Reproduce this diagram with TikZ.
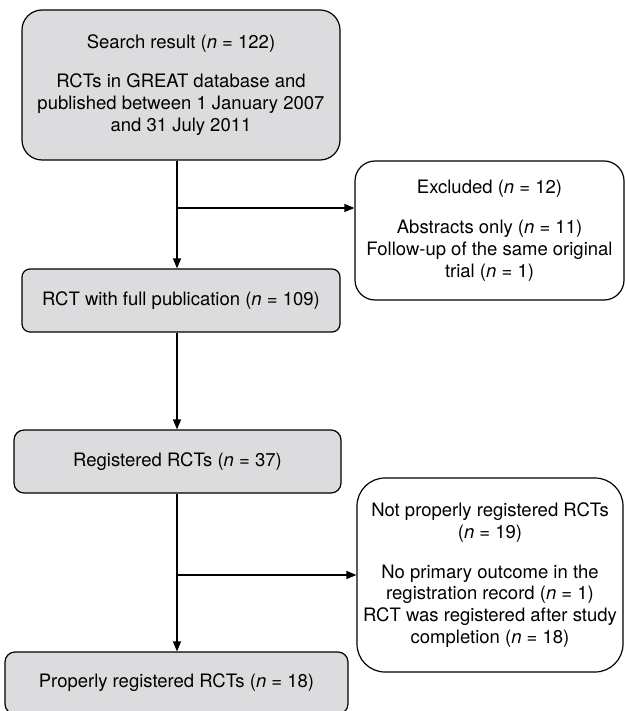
\documentclass[tikz,border=0pt]{standalone}
\usepackage{fontspec}
\setmainfont{TeX Gyre Heros}
\usetikzlibrary{arrows.meta}
\definecolor{boxgray}{RGB}{220,220,222}
\begin{document}
\begin{tikzpicture}[x=1pt,y=-1pt,
  box/.style={draw=black, line width=1.2pt, fill=boxgray, align=center, inner sep=0pt,
    font=\fontsize{18.5}{21.8}\selectfont},
  wbox/.style={box, fill=white},
  arr/.style={line width=1.2pt, -{Triangle[length=10pt,width=8pt]}}]
\useasboundingbox (0,0) rectangle (625,711);
\node[box, rounded corners=20pt, minimum width=318pt, minimum height=150pt] (b1) at (181,85)
  {Search result (\textit{n} = 122)\\[18pt]RCTs in GREAT database and\\published between 1 January 2007\\and 31 July 2011};
\node[box, rounded corners=8pt, minimum width=318pt, minimum height=63pt] (b2) at (181,300.5)
  {RCT with full publication (\textit{n} = 109)};
\node[wbox, rounded corners=20pt, minimum width=269pt, minimum height=139pt] (exc) at (489.5,230.5)
  {Excluded (\textit{n} = 12)\\[19pt]Abstracts only (\textit{n} = 11)\\Follow-up of the same original\\trial (\textit{n} = 1)};
\node[box, rounded corners=10pt, minimum width=327pt, minimum height=63pt] (reg) at (177.5,461.5)
  {Registered RCTs (\textit{n} = 37)};
\node[wbox, rounded corners=28pt, minimum width=266pt, minimum height=194pt] (np) at (490,575)
  {Not properly registered RCTs\\(\textit{n} = 19)\\[18pt]No primary outcome in the\\registration record (\textit{n} = 1)\\RCT was registered after study\\completion (\textit{n} = 18)};
\node[box, rounded corners=10pt, minimum width=343pt, minimum height=62pt] (pr) at (176.5,683)
  {Properly registered RCTs (\textit{n} = 18)};
\coordinate (s1) at (177,208);
\coordinate (s2) at (177,575);
\draw[arr] (b1.south -| s1) -- (b2.north -| s1);
\draw[arr] (s1) -- (s1 -| exc.west);
\draw[arr] (b2.south -| s1) -- (reg.north -| s1);
\draw[arr] (reg.south -| s1) -- (pr.north -| s1);
\draw[arr] (s2) -- (s2 -| np.west);
\end{tikzpicture}
\end{document}
